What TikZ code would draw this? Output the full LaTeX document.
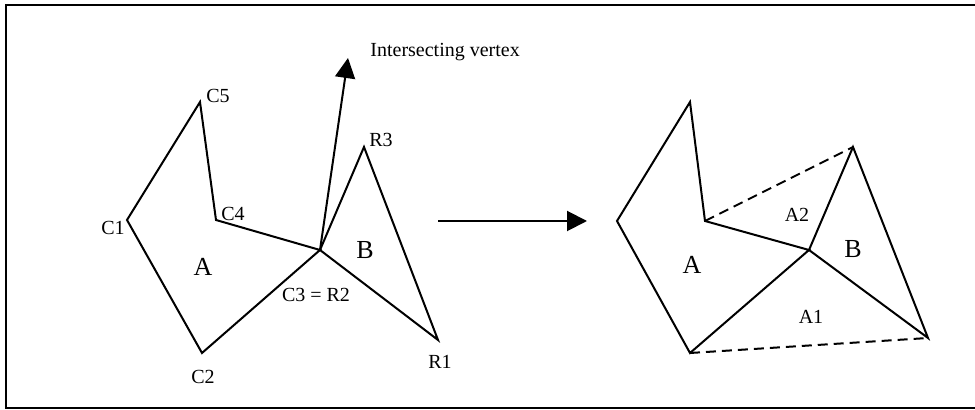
\documentclass[tikz,border=0pt]{standalone}
\usepackage{fontspec}
\setmainfont{Liberation Serif}
\usetikzlibrary{arrows.meta}
\tikzset{edge/.style={line width=1pt, line join=miter},
  cut/.style={line width=1pt, dash pattern=on 5pt off 3pt},
  pointer/.style={line width=1pt, -{Triangle[length=10pt, width=10pt]}},
  vlabel/.style={font=\fontsize{10}{12}\selectfont, inner sep=0pt},
  plabel/.style={font=\fontsize{13}{15}\selectfont, inner sep=0pt}}

\begin{document}
\begin{tikzpicture}[x=0.5pt, y=-0.5pt]
\useasboundingbox (0,0) rectangle (975,410);
\draw[line width=1.2pt] (976,5) -- (6,5) -- (6,408) -- (976,408);

% before
\coordinate (c1) at (127,220);
\coordinate (c2) at (202,353);
\coordinate (c3) at (320,250);
\coordinate (c4) at (216,220);
\coordinate (c5) at (200,102);
\coordinate (r1) at (438,340);
\coordinate (r3) at (364,147);
\coordinate (tip) at (348,58);
\draw[edge] (c1) -- (c5) -- (c4) -- (c3) -- (c2) -- cycle;
\draw[edge] (c3) -- (r3) -- (r1) -- cycle;
\draw[pointer] (c3) -- (tip);
\node[vlabel, anchor=base west] (vtxtext) at (370,57) {Intersecting vertex};
\node[vlabel] (lc1) at (113,228) {C1};
\node[vlabel] (lc2) at (203,377) {C2};
\node[vlabel] (lc3) at (316,295) {C3 = R2};
\node[vlabel] (lc4) at (233,214) {C4};
\node[vlabel] (lc5) at (218,96) {C5};
\node[vlabel] (lr1) at (440,362) {R1};
\node[vlabel] (lr3) at (381,140) {R3};
\node[plabel] (la) at (203,267) {A};
\node[plabel] (lb) at (365,250) {B};

\coordinate (m1) at (438,221);
\coordinate (m2) at (587,221);
\draw[pointer] (m1) -- (m2);

% after
\coordinate (p1) at (617,221);
\coordinate (p2) at (690,353);
\coordinate (p3) at (809,250);
\coordinate (p4) at (705,221);
\coordinate (p5) at (690,102);
\coordinate (q1) at (928,338);
\coordinate (q3) at (853,147);
\draw[edge] (p1) -- (p5) -- (p4) -- (p3) -- (p2) -- cycle;
\draw[edge] (p3) -- (q3) -- (q1) -- cycle;
\draw[cut] (p4) -- (q3);
\draw[cut] (p2) -- (q1);
\node[plabel] (ra) at (692,265) {A};
\node[plabel] (rb) at (853,249) {B};
\node[vlabel] (ra1) at (811,317) {A1};
\node[vlabel] (ra2) at (797,215) {A2};
\end{tikzpicture}
\end{document}
